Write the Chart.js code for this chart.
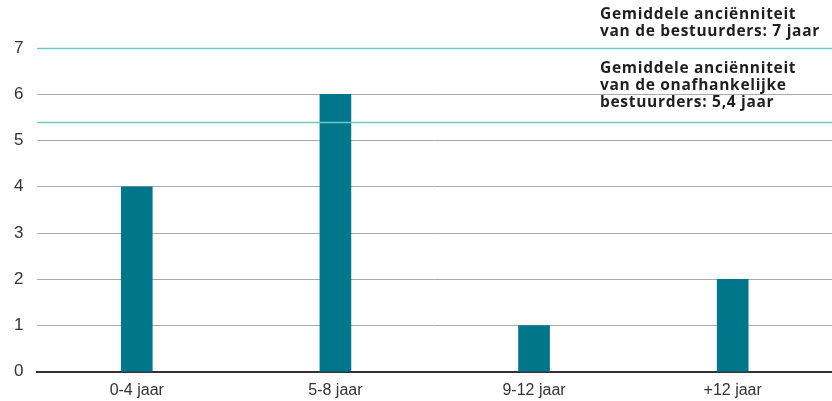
<!DOCTYPE html>
<html>
<head>
<meta charset="utf-8">
<script src="https://cdn.jsdelivr.net/npm/chart.js@4/dist/chart.umd.min.js"></script>
<style>
  html, body { margin: 0; padding: 0; background: #fff; }
  #wrap { width: 832px; height: 401px; }
</style>
</head>
<body>
<div id="wrap"><canvas id="seniorityChart"></canvas></div>
<script>
const categories = ['0-4 jaar', '5-8 jaar', '9-12 jaar', '+12 jaar'];
const directorCounts = [4, 6, 1, 2];
const averageLines = [
  { value: 7, lines: ['Gemiddele anciënniteit', 'van de bestuurders: 7 jaar'], textTop: 7 },
  { value: 5.4, lines: ['Gemiddele anciënniteit', 'van de onafhankelijke', 'bestuurders: 5,4 jaar'], textTop: 61 }
];

const averageLinesPlugin = {
  id: 'averageLines',
  afterDatasetsDraw(chart) {
    const { ctx, chartArea, scales } = chart;
    ctx.save();
    averageLines.forEach(item => {
      const y = Math.round(scales.y.getPixelForValue(item.value)) + 0.5;
      ctx.strokeStyle = '#6cc9c4';
      ctx.lineWidth = 1.5;
      ctx.beginPath();
      ctx.moveTo(chartArea.left, y);
      ctx.lineTo(chartArea.right, y);
      ctx.stroke();

      ctx.fillStyle = '#1f1f1f';
      ctx.font = 'bold 15.5px "Open Sans", "Noto Sans", sans-serif';
      ctx.letterSpacing = '0.7px';
      ctx.textBaseline = 'top';
      ctx.textAlign = 'left';
      item.lines.forEach((line, i) => {
        ctx.fillText(line, 600, item.textTop + i * 17);
      });
    });
    ctx.restore();
  }
};

new Chart(document.getElementById('seniorityChart'), {
  type: 'bar',
  data: {
    labels: categories,
    datasets: [{
      data: directorCounts,
      backgroundColor: '#00768a',
      barThickness: 31
    }]
  },
  options: {
    responsive: true,
    maintainAspectRatio: false,
    animation: false,
    layout: { padding: { top: 48, right: 0, left: 0, bottom: 0 } },
    plugins: {
      legend: { display: false },
      tooltip: { enabled: false }
    },
    scales: {
      x: {
        grid: { display: false },
        border: { color: '#333', width: 2 },
        ticks: {
          color: '#333',
          font: { family: '"Liberation Sans", Arial, sans-serif', size: 16 },
          padding: 1
        }
      },
      y: {
        min: 0,
        max: 7,
        ticks: {
          stepSize: 1,
          color: '#333',
          font: { family: '"Liberation Sans", Arial, sans-serif', size: 17 },
          padding: 14
        },
        grid: { color: '#aaaaaa', drawTicks: false },
        border: { display: false }
      }
    }
  },
  plugins: [averageLinesPlugin]
});
</script>
</body>
</html>
